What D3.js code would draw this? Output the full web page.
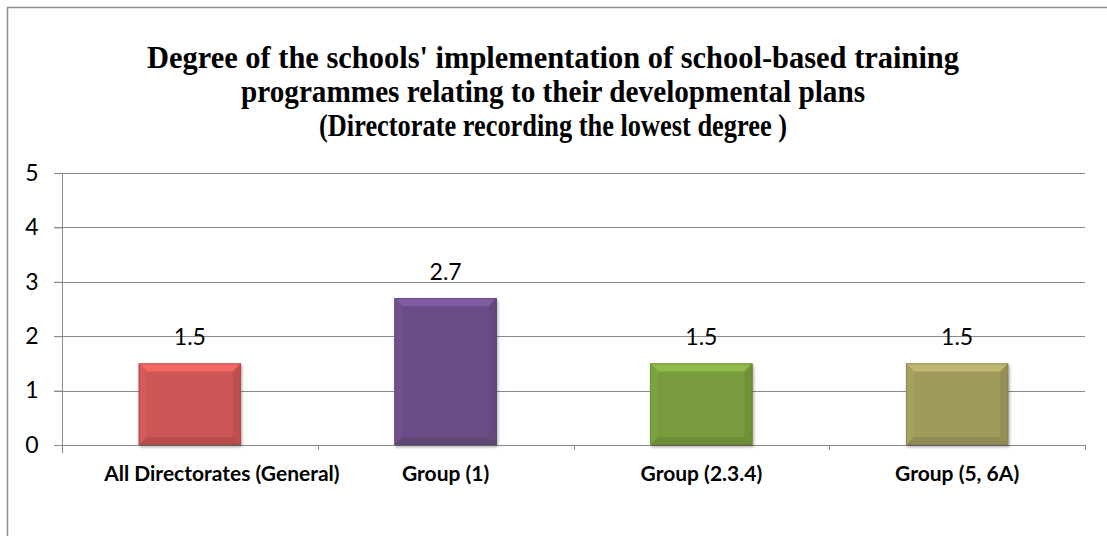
<!DOCTYPE html>
<html>
<head>
<meta charset="utf-8">
<script src="https://cdn.jsdelivr.net/npm/d3@7"></script>
<style>
  html, body { margin: 0; padding: 0; background: #fff; }
  svg { display: block; }
</style>
</head>
<body>
<script>
// Chart data
const categories = ["All Directorates (General)", "Group (1)", "Group (2.3.4)", "Group (5, 6A)"];
const values = [1.5, 2.7, 1.5, 1.5];
const barColors = ["#CB5654", "#6A4E86", "#789C3C", "#A09A5D"];
const yTicks = [0, 1, 2, 3, 4, 5];
const titleLines = [
  "Degree of the schools' implementation of school-based training",
  "programmes relating to their developmental plans",
  "(Directorate recording the lowest degree )"
];

const W = 1107, H = 536;
const svg = d3.select("body").append("svg").attr("width", W).attr("height", H);

// Outer frame (top and left edges visible)
svg.append("path")
  .attr("d", `M7.5,${H} V7.5 H${W}`)
  .attr("fill", "none").attr("stroke", "#8c8c8c").attr("stroke-width", 1.5);

// Title, set in a condensed bold serif
const title = svg.append("g").attr("font-family", "'Liberation Serif', 'Times New Roman', serif")
  .attr("font-weight", "bold").attr("font-size", 31).attr("fill", "#000");
const titleWidths = [812, 624, 468];
titleLines.forEach((t, i) => {
  title.append("text")
    .attr("x", 553).attr("y", 68 + i * 34)
    .attr("text-anchor", "middle")
    .attr("textLength", titleWidths[i]).attr("lengthAdjust", "spacingAndGlyphs")
    .text(t);
});

// Scales
const x = d3.scaleBand().domain(categories).range([62, 1085]).paddingInner(0.6).paddingOuter(0.3);
const y = d3.scaleLinear().domain([0, 5]).range([445, 173]);

// Horizontal gridlines
svg.append("g").selectAll("line").data(yTicks).join("line")
  .attr("x1", 54).attr("x2", 1085)
  .attr("y1", d => Math.round(y(d)) + 0.5).attr("y2", d => Math.round(y(d)) + 0.5)
  .attr("stroke", "#8a8a8a").attr("stroke-width", 1);

// Y axis
const yAxis = svg.append("g").attr("transform", "translate(62.5,0)")
  .call(d3.axisLeft(y).tickValues(yTicks).tickSize(8).tickPadding(16).tickFormat(d3.format("d")));
yAxis.select(".domain").attr("stroke", "#8a8a8a").attr("d", `M0,${y(5)}V${y(0) + 8}`);
yAxis.selectAll(".tick line").attr("stroke", "#8a8a8a");
yAxis.selectAll(".tick text").attr("font-family", "Lato, 'Liberation Sans', sans-serif")
  .attr("font-size", 23).attr("fill", "#000");

// Category tick marks at band boundaries
const step = x.step();
const boundaries = d3.range(categories.length + 1).map(i => 62 + i * step);
svg.append("g").selectAll("line").data(boundaries).join("line")
  .attr("x1", d => Math.round(d) + 0.5).attr("x2", d => Math.round(d) + 0.5)
  .attr("y1", y(0)).attr("y2", y(0) + 5)
  .attr("stroke", "#8a8a8a");

// Bevelled bars with a soft drop shadow
const defs = svg.append("defs");
const shadow = defs.append("filter").attr("id", "barShadow").attr("x", "-10%").attr("y", "-10%").attr("width", "130%").attr("height", "130%");
shadow.append("feGaussianBlur").attr("in", "SourceAlpha").attr("stdDeviation", 1.5);
shadow.append("feOffset").attr("dx", 1).attr("dy", 2).attr("result", "off");
shadow.append("feComponentTransfer").append("feFuncA").attr("type", "linear").attr("slope", 0.35);
const merge = shadow.append("feMerge");
merge.append("feMergeNode");
merge.append("feMergeNode").attr("in", "SourceGraphic");

const bev = 8;
const bars = svg.append("g").selectAll("g").data(values).join("g")
  .attr("filter", "url(#barShadow)");
bars.each(function(v, i) {
  const g = d3.select(this);
  const x0 = x(categories[i]), x1 = x0 + x.bandwidth();
  const y0 = y(v), y1 = y(0);
  const c = d3.color(barColors[i]);
  g.append("rect").attr("x", x0).attr("y", y0).attr("width", x1 - x0).attr("height", y1 - y0)
    .attr("fill", c.formatHex());
  // top facet
  g.append("path").attr("d", `M${x0},${y0}L${x1},${y0}L${x1 - bev},${y0 + bev}L${x0 + bev},${y0 + bev}Z`)
    .attr("fill", c.brighter(0.5).formatHex());
  // left facet
  g.append("path").attr("d", `M${x0},${y0}L${x0 + bev},${y0 + bev}L${x0 + bev},${y1 - bev}L${x0},${y1}Z`)
    .attr("fill", c.brighter(0.12).formatHex());
  // right facet
  g.append("path").attr("d", `M${x1},${y0}L${x1},${y1}L${x1 - bev},${y1 - bev}L${x1 - bev},${y0 + bev}Z`)
    .attr("fill", c.darker(0.2).formatHex());
  // bottom facet
  g.append("path").attr("d", `M${x0},${y1}L${x1},${y1}L${x1 - bev},${y1 - bev}L${x0 + bev},${y1 - bev}Z`)
    .attr("fill", c.darker(0.3).formatHex());
  g.append("rect").attr("x", x0 + 0.5).attr("y", y0 + 0.5).attr("width", x1 - x0 - 1).attr("height", y1 - y0 - 1)
    .attr("fill", "none").attr("stroke", c.darker(0.6).formatHex()).attr("stroke-opacity", 0.6);
});

// Value labels
svg.append("g").selectAll("text").data(values).join("text")
  .attr("x", (d, i) => x(categories[i]) + x.bandwidth() / 2)
  .attr("y", d => y(d) - 18)
  .attr("text-anchor", "middle")
  .attr("font-family", "Lato, 'Liberation Sans', sans-serif").attr("font-size", 23).attr("fill", "#000")
  .text(d => d3.format(".1f")(d));

// Category labels (the long first label sits a little to the right of its bar)
svg.append("g").selectAll("text").data(categories).join("text")
  .attr("x", d => x(d) + x.bandwidth() / 2)
  .attr("dx", (d, i) => i === 0 ? 32 : 0)
  .attr("y", 481)
  .attr("text-anchor", "middle")
  .attr("font-family", "Lato, 'Liberation Sans', sans-serif").attr("font-weight", "bold")
  .attr("font-size", 21).attr("fill", "#000")
  .text(d => d);
</script>
</body>
</html>
